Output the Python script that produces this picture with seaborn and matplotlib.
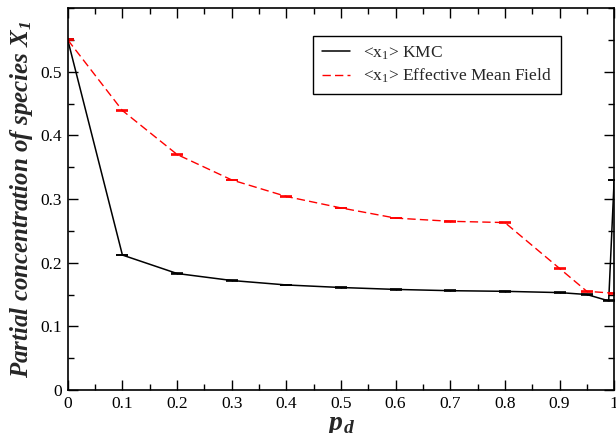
import matplotlib
matplotlib.use("Agg")
import matplotlib.pyplot as plt
import seaborn as sns
import pandas as pd
from matplotlib.ticker import MultipleLocator, FixedLocator

# data
pd_kmc = [0.0, 0.1, 0.2, 0.3, 0.4, 0.5, 0.6, 0.7, 0.8, 0.9, 0.95, 0.99, 1.0]
x1_kmc = [0.55, 0.212, 0.183, 0.172, 0.165, 0.161, 0.158, 0.156, 0.155, 0.153, 0.150, 0.140, 0.33]

pd_emf = [0.0, 0.1, 0.2, 0.3, 0.4, 0.5, 0.6, 0.7, 0.8, 0.9, 0.95, 1.0]
x1_emf = [0.55, 0.439, 0.370, 0.330, 0.304, 0.286, 0.270, 0.265, 0.263, 0.191, 0.155, 0.152]

xticks = [0, 0.1, 0.2, 0.3, 0.4, 0.5, 0.6, 0.7, 0.8, 0.9, 1]
xtick_labels = ["0", "0.1", "0.2", "0.3", "0.4", "0.5", "0.6", "0.7", "0.8", "0.9", "1"]
yticks = [0, 0.1, 0.2, 0.3, 0.4, 0.5]
ytick_labels = ["0", "0.1", "0.2", "0.3", "0.4", "0.5"]

kmc = pd.DataFrame({"p": pd_kmc, "x1": x1_kmc})
emf = pd.DataFrame({"p": pd_emf, "x1": x1_emf})

sns.set_style("ticks")
plt.rcParams["font.family"] = ["Liberation Serif", "DejaVu Serif"]
plt.rcParams["mathtext.fontset"] = "custom"
plt.rcParams["mathtext.rm"] = "Liberation Serif"
plt.rcParams["mathtext.it"] = "Liberation Serif:italic"
plt.rcParams["mathtext.bf"] = "Liberation Serif:bold:italic"

fig = plt.figure(figsize=(6.16, 4.33), dpi=100)
ax = fig.add_axes([0.110, 0.0993, 0.887, 0.8822])

sns.lineplot(data=kmc, x="p", y="x1", ax=ax, color="black", linewidth=1.1,
             label=r"<x$_\mathregular{1}$> KMC", sort=False)
sns.lineplot(data=emf, x="p", y="x1", ax=ax, color="red", linewidth=1.0,
             dashes=(6, 3), label=r"<x$_\mathregular{1}$> Effective Mean Field", sort=False)

# tiny error bars, shown as caps
ax.errorbar(kmc["p"], kmc["x1"], yerr=0.0006, fmt="none", ecolor="black",
            elinewidth=1.0, capsize=4.5, capthick=1.2)
ax.errorbar(emf["p"], emf["x1"], yerr=0.0006, fmt="none", ecolor="red",
            elinewidth=1.0, capsize=4.5, capthick=1.2)

ax.set_xlim(0, 1)
ax.set_ylim(0, 0.6)
ax.xaxis.set_major_locator(FixedLocator(xticks))
ax.set_xticklabels(xtick_labels)
ax.yaxis.set_major_locator(FixedLocator(yticks))
ax.set_yticklabels(ytick_labels)
ax.xaxis.set_minor_locator(MultipleLocator(0.05))
ax.yaxis.set_minor_locator(MultipleLocator(0.05))
ax.tick_params(which="both", direction="in", top=True, right=True,
               labelsize=12.5, width=1.0, colors="black")
ax.tick_params(which="major", length=7, pad=4)
ax.tick_params(which="minor", length=4)
for s in ax.spines.values():
    s.set_visible(True)
    s.set_linewidth(1.2)
    s.set_color("black")

ax.set_xlabel(r"$\mathbf{p_d}$", fontsize=20, labelpad=1)
ax.set_ylabel(r"Partial concentration of species $\mathbf{X_1}$",
              fontsize=18, fontweight="bold", fontstyle="italic", labelpad=4)

leg = ax.legend(loc="upper left", bbox_to_anchor=(0.449, 0.928), fontsize=12.5,
                frameon=True, fancybox=False, framealpha=1, edgecolor="black",
                handlelength=1.6, borderpad=0.5, labelspacing=0.3,
                borderaxespad=0)
leg.get_frame().set_linewidth(1.0)

plt.savefig("out.png", dpi=100)
